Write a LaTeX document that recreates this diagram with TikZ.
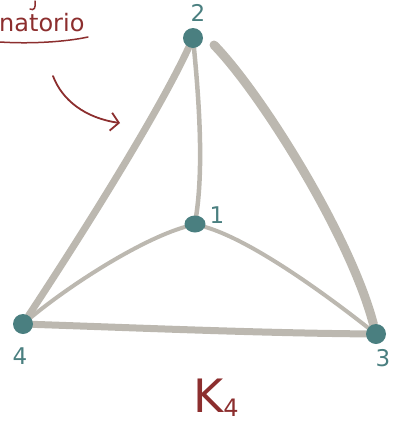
\documentclass[tikz,border=0pt]{standalone}
\usepackage{fontspec}
\setmainfont{DejaVu Sans}
\usetikzlibrary{arrows.meta,shapes.geometric,backgrounds}
\definecolor{edgegray}{RGB}{188,184,176}
\definecolor{vteal}{RGB}{74,127,128}
\definecolor{ink}{RGB}{140,46,46}
\begin{document}
\begin{tikzpicture}[x=1pt,y=-1pt,
  vert/.style={circle,fill=vteal,inner sep=0pt,minimum size=20pt},
  vlabel/.style={text=vteal,font=\fontsize{23}{23}\selectfont},
  edge/.style={draw=edgegray,line cap=round},
  redink/.style={draw=ink,line cap=round,line width=1.5pt}]
\useasboundingbox (0,0) rectangle (393,424);
% vertices
\node[vert] (n2) at (193,38) {};
\node[vert,ellipse,minimum width=21pt,minimum height=17pt] (n1) at (195,224) {};
\node[vert] (n4) at (23,324) {};
\node[vert] (n3) at (376,334) {};
% edges
\begin{scope}[on background layer]
\draw[edge,line width=7pt] (n2) .. controls (160,110) and (85,230) .. (n4);
\coordinate (s23) at (214,45);
\draw[edge,line width=9pt] (s23) .. controls (260,92) and (350,235) .. (n3);
\draw[edge,line width=4.5pt] (n2) .. controls (200,110) and (203,170) .. (n1);
\draw[edge,line width=4pt] (n1) .. controls (140,240) and (70,285) .. (n4);
\draw[edge,line width=4pt] (n1) .. controls (250,240) and (320,290) .. (n3);
\draw[edge,line width=7pt] (n4) .. controls (140,328) and (260,333) .. (n3);
\end{scope}
% labels
\node[vlabel] (l2) at (198,13) {2};
\node[vlabel] (l1) at (217,215) {1};
\node[vlabel] (l4) at (20,356) {4};
\node[vlabel] (l3) at (383,358) {3};
% red annotations
\node[text=ink,font=\fontsize{24}{24}\selectfont,anchor=base west,inner sep=0pt] (word) at (-1,31) {natorio};
\draw[redink] (0,42) .. controls (30,44) and (65,42) .. (88,37);
\draw[redink] (35,1) .. controls (36,8) and (34,11) .. (30,9);
\coordinate (as) at (53,76);
\coordinate (ae) at (120,123);
\draw[redink,line width=1.8pt,-{Straight Barb[length=8pt,width=18pt]}] (as) .. controls (62,100) and (85,118) .. (ae);
\node[text=ink,font=\fontsize{46}{46}\selectfont,inner sep=0pt] (k4) at (216,398) {K\raisebox{-4pt}{\fontsize{24}{24}\selectfont 4}};
\end{tikzpicture}
\end{document}
